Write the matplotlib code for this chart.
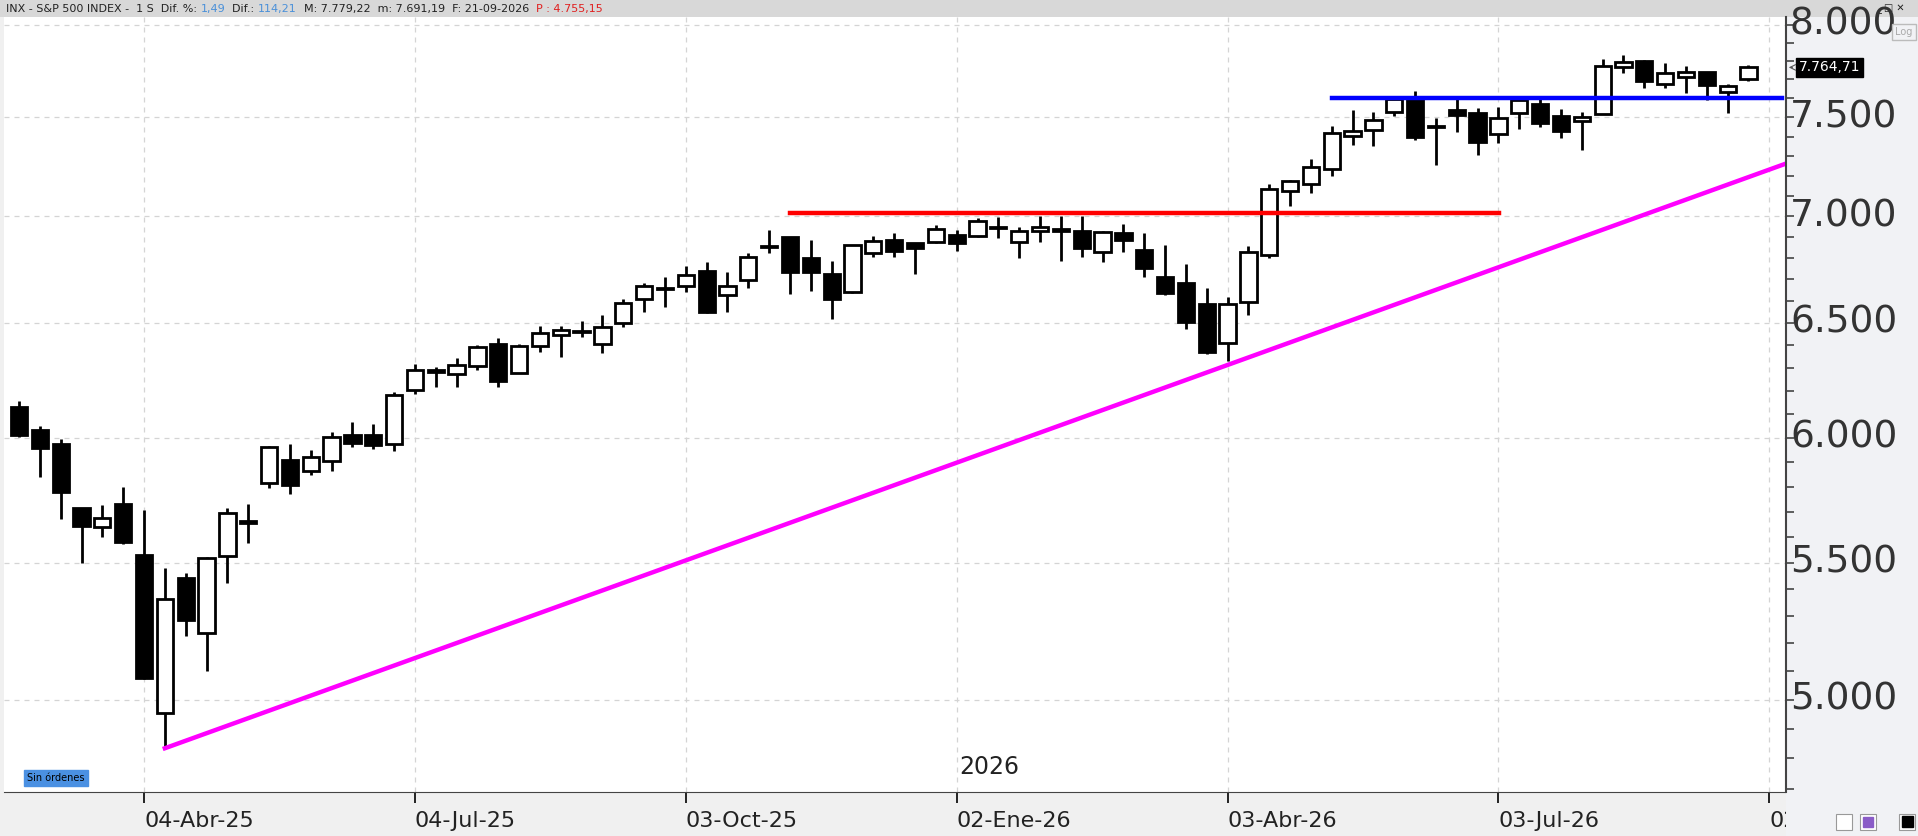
import numpy as np
import matplotlib.pyplot as plt
from matplotlib.patches import Rectangle
from matplotlib.ticker import FixedLocator, NullFormatter

W, H = 1918, 836

# weekly candles (index 0 .. 83)
opens = [6130, 6033, 5975, 5712, 5639, 5729, 5530, 4955, 5444, 5238,
         5526, 5655, 5814, 5910, 5862, 5903, 6012, 6012, 5975, 6202,
         6280, 6271, 6309, 6404, 6279, 6395, 6447, 6460, 6404, 6500,
         6608, 6655, 6670, 6741, 6627, 6698, 6850, 6898, 6798, 6727,
         6641, 6822, 6884, 6870, 6874, 6912, 6903, 6945, 6874, 6931,
         6927, 6931, 6827, 6917, 6836, 6713, 6684, 6584, 6408, 6594,
         6812, 7125, 7160, 7235, 7401, 7432, 7528, 7598, 7450, 7538,
         7523, 7411, 7523, 7571, 7508, 7482, 7518, 7765, 7802, 7676,
         7712, 7738, 7633, 7700]
highs = [6155, 6050, 5995, 5715, 5725, 5798, 5704, 5480, 5462, 5522,
         5712, 5729, 5965, 5975, 5951, 6025, 6067, 6059, 6195, 6318,
         6305, 6344, 6400, 6430, 6404, 6487, 6487, 6509, 6536, 6608,
         6684, 6713, 6760, 6779, 6736, 6822, 6936, 6900, 6884, 6784,
         6862, 6903, 6917, 6872, 6960, 6936, 6993, 6998, 6950, 7003,
         7003, 7003, 6927, 6965, 6917, 6860, 6770, 6660, 6617, 6855,
         7160, 7180, 7286, 7457, 7538, 7528, 7600, 7640, 7497, 7598,
         7548, 7553, 7608, 7598, 7543, 7528, 7812, 7833, 7805, 7791,
         7770, 7740, 7676, 7779]
lows = [6005, 5838, 5672, 5498, 5598, 5571, 5071, 4834, 5227, 5100,
        5422, 5575, 5793, 5769, 5846, 5862, 5963, 5955, 5947, 6185,
        6218, 6214, 6290, 6214, 6275, 6369, 6348, 6434, 6365, 6482,
        6551, 6570, 6641, 6546, 6551, 6660, 6822, 6632, 6646, 6518,
        6637, 6807, 6807, 6727, 6870, 6831, 6900, 6893, 6798, 6874,
        6784, 6803, 6779, 6827, 6713, 6627, 6474, 6361, 6331, 6536,
        6798, 7050, 7115, 7200, 7355, 7350, 7508, 7380, 7253, 7421,
        7303, 7365, 7437, 7447, 7391, 7330, 7515, 7733, 7655, 7655,
        7628, 7592, 7523, 7691]
closes = [6012, 5958, 5778, 5643, 5676, 5579, 5075, 5365, 5285, 5520,
          5696, 5662, 5963, 5805, 5919, 6004, 5979, 5971, 6182, 6288,
          6288, 6314, 6391, 6240, 6395, 6452, 6469, 6465, 6482, 6589,
          6670, 6660, 6722, 6551, 6670, 6803, 6855, 6732, 6736, 6608,
          6860, 6879, 6831, 6846, 6941, 6870, 6979, 6950, 6927, 6946,
          6941, 6846, 6922, 6884, 6751, 6637, 6503, 6369, 6584, 6827,
          7135, 7175, 7245, 7416, 7427, 7487, 7598, 7396, 7455, 7513,
          7370, 7497, 7592, 7472, 7427, 7503, 7770, 7796, 7691, 7733,
          7738, 7671, 7665, 7765]

tick_idx = [6, 19, 32, 45, 58, 71, 84]
tick_labels = ['04-Abr-25', '04-Jul-25', '03-Oct-25', '02-Ene-26', '03-Abr-26', '03-Jul-26', '02-Oct-26']
price_ticks = [5000, 5500, 6000, 6500, 7000, 7500, 8000]
price_labels = ['5.000', '5.500', '6.000', '6.500', '7.000', '7.500', '8.000']

# drawn lines: (x0, y0, x1, y1)
support = (7, 4834, 84.8, 7262)
resist_red = (37.0, 7015, 71.05, 7015)
resist_blue = (63.0, 7600, 84.6, 7600)
last_price = 7764.71

fig = plt.figure(figsize=(W / 100, H / 100), dpi=100)
fig.patch.set_facecolor('#f0f0f0')

def frac(x0, y0, x1, y1):
    return [x0 / W, 1 - y1 / H, (x1 - x0) / W, (y1 - y0) / H]

ax = fig.add_axes(frac(4, 17, 1786, 792))
ax.set_facecolor('white')
ax.set_yscale('log')
ax.set_xlim(-0.72, 84.8)
ax.set_ylim(4689, 8042)

for v in price_ticks:
    ax.axhline(v, color='#d4d4d4', lw=0.9, ls=(0, (4, 4)), zorder=0)
for t in tick_idx:
    ax.axvline(t, color='#d4d4d4', lw=0.9, ls=(0, (4, 4)), zorder=0)

x = np.arange(len(opens))
o = np.array(opens, float)
c = np.array(closes, float)
ax.vlines(x, lows, highs, color='black', lw=2.0, zorder=2)
up = c >= o
bottom = np.minimum(o, c)
height = np.maximum(np.abs(c - o), 1.0)
ax.bar(x[up], height[up], bottom=bottom[up], width=0.78, facecolor='white',
       edgecolor='black', linewidth=2.0, zorder=3)
ax.bar(x[~up], height[~up], bottom=bottom[~up], width=0.78, facecolor='black',
       edgecolor='black', linewidth=2.0, zorder=3)

ax.plot(support[::2], support[1::2], color='#ff00ff', lw=3.2, zorder=4)
ax.plot(resist_red[::2], resist_red[1::2], color='#ff0000', lw=3.2, zorder=4)
ax.plot(resist_blue[::2], resist_blue[1::2], color='#0000ff', lw=3.2, zorder=4)

ax.yaxis.set_major_locator(FixedLocator([]))
ax.yaxis.set_minor_locator(FixedLocator([]))
ax.yaxis.set_minor_formatter(NullFormatter())
ax.set_xticks(tick_idx)
ax.set_xticklabels(tick_labels, fontsize=16, color='#222222', ha='left')
ax.tick_params(axis='x', length=8, width=1.2, pad=6)
for s in ['top', 'left', 'right']:
    ax.spines[s].set_visible(False)
ax.spines['bottom'].set_color('#444444')
ax.text(45.1, 4730, '2026', fontsize=17, color='#222222', ha='left', va='bottom')
ax.text(0.4, 4735, 'Sin órdenes', fontsize=7, color='black', va='center',
        bbox=dict(boxstyle='square,pad=0.35', fc='#4a90e2', ec='#4a90e2'))

# right price panel, drawn on top (also hides the cut tick label)
ax2 = fig.add_axes(frac(1786, 17, 1918, 836), zorder=5)
ax2.set_facecolor('#f1f2f5')
ax2.set_xlim(0, 1)
ax2.set_xticks([])
ax2.set_yticks([])
for s in ax2.spines.values():
    s.set_visible(False)
axp = fig.add_axes(frac(1786, 17, 1918, 792), zorder=6)
axp.patch.set_alpha(0)
axp.set_yscale('log')
axp.set_ylim(ax.get_ylim())
axp.set_xlim(0, 1)
axp.set_xticks([])
for s in ['top', 'right', 'bottom']:
    axp.spines[s].set_visible(False)
axp.spines['left'].set_color('#444444')
axp.spines['left'].set_linewidth(1.5)
axp.yaxis.set_major_locator(FixedLocator(list(range(4700, 8100, 100))))
axp.yaxis.set_minor_locator(FixedLocator([]))
axp.yaxis.set_major_formatter(NullFormatter())
axp.yaxis.set_minor_formatter(NullFormatter())
axp.tick_params(axis='y', direction='in', length=6, width=1.2, color='#444444')
for v, lab in zip(price_ticks, price_labels):
    axp.text(0.03, v, lab, fontsize=27, color='#333333', va='center', ha='left')
axp.text(0.1, last_price, f'{last_price:,.2f}'.replace(',', 'X').replace('.', ',').replace('X', '.'),
         fontsize=10, color='white', va='center', ha='left',
         bbox=dict(boxstyle='square,pad=0.2', fc='black', ec='black'))
axp.annotate('', xy=(0.0, last_price), xytext=(0.07, last_price),
             arrowprops=dict(arrowstyle='->', color='#555555', lw=0.8))
fig.text(1904 / W, 1 - 32 / H, 'Log', fontsize=7, color='#aaaaaa', ha='center', va='center',
         bbox=dict(boxstyle='square,pad=0.3', fc='#f1f2f5', ec='#bbbbbb'), zorder=10)

# header bar
fig.patches.append(Rectangle((0, 1 - 17 / H), 1, 17 / H, transform=fig.transFigure,
                             fc='#d8d8d8', ec='none', zorder=0))
hy = 1 - 9 / H
parts = [('INX - S&P 500 INDEX -  1 S  Dif. %: ', '#222222'), ('1,49', '#4a90d9'),
         ('  Dif.: ', '#222222'), ('114,21', '#4a90d9'),
         ('  M: 7.779,22  m: 7.691,19  F: 21-09-2026  ', '#222222'), ('P : 4.755,15', '#e02020')]
xpos = 6
for txt, col in parts:
    t = fig.text(xpos / W, hy, txt, fontsize=8, color=col, va='center', ha='left')
    fig.canvas.draw()
    xpos += t.get_window_extent().width
fig.text(1876 / W, hy, '_ □ ✕', fontsize=7, color='#222222', va='center', ha='left')

# bottom-right buttons
for bx in [1836, 1860, 1899]:
    fig.patches.append(Rectangle((bx / W, 6 / H), 16 / W, 16 / H, transform=fig.transFigure,
                                 fc='white', ec='#999999', lw=0.8, zorder=10))
fig.patches.append(Rectangle((1902 / W, 9 / H), 11 / W, 11 / H, transform=fig.transFigure,
                             fc='black', ec='black', zorder=11))
fig.patches.append(Rectangle((1863 / W, 9 / H), 10 / W, 10 / H, transform=fig.transFigure,
                             fc='#8a5cc7', ec='#8a5cc7', zorder=11))

fig.savefig('out.png', dpi=100, facecolor=fig.get_facecolor())
